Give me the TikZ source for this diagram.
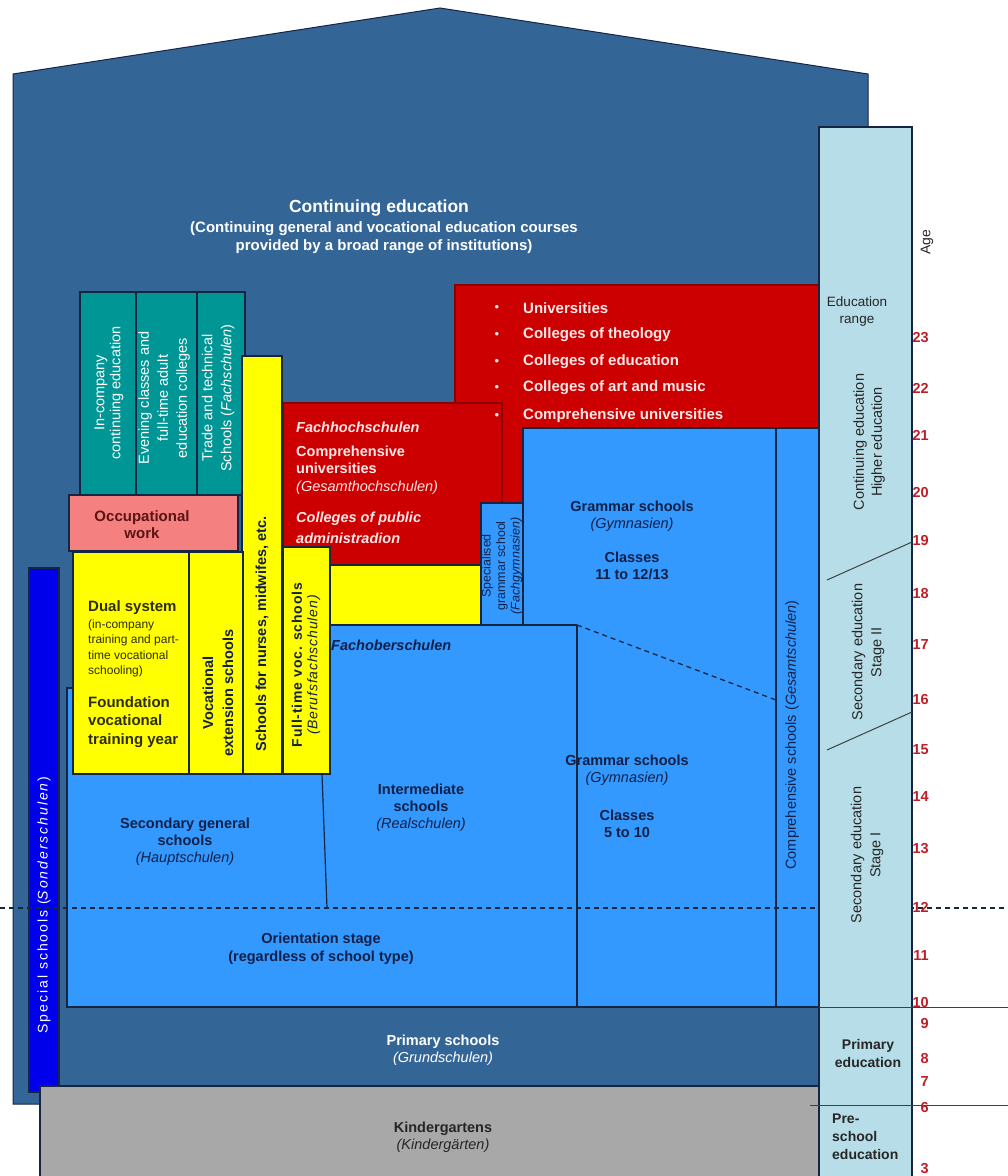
\documentclass[tikz,border=0pt]{standalone}
\usepackage{fontspec}
\setmainfont{Liberation Sans}
\newcommand\fz[2]{\fontsize{#1}{#2}\selectfont}
\newcommand\track[1]{\addfontfeatures{LetterSpace=#1}}
\definecolor{house}{RGB}{52,101,151}
\definecolor{sky}{RGB}{51,153,255}
\definecolor{tealbox}{RGB}{0,150,150}
\definecolor{redbox}{RGB}{204,0,0}
\definecolor{darkred}{RGB}{140,0,0}
\definecolor{yel}{RGB}{255,255,0}
\definecolor{pinkbox}{RGB}{245,128,128}
\definecolor{kgray}{RGB}{168,168,168}
\definecolor{agebar}{RGB}{183,222,232}
\definecolor{special}{RGB}{0,0,235}
\definecolor{agered}{RGB}{190,30,40}
\definecolor{ink}{RGB}{18,32,72}
\definecolor{edge}{RGB}{22,38,66}
\definecolor{paleink}{RGB}{255,232,232}
\definecolor{maroon}{RGB}{90,20,20}
\definecolor{olive}{RGB}{45,45,10}
\begin{document}
\begin{tikzpicture}[x=1pt,y=-1pt,line join=miter,
  outline/.style={draw=edge,line width=1.2pt},
  redline/.style={draw=darkred,line width=1.2pt},
  txt/.style={inner sep=0pt,align=center,text=ink},
  blabel/.style={txt,font=\bfseries\fz{14.5}{17}},
  ylabel/.style={txt,text=olive},
  whitebold/.style={txt,text=white,font=\bfseries\fz{14.5}{17}},
  bulletitem/.style={inner sep=0pt,anchor=west,text=paleink,font=\bfseries\fz{15}{18}},
  agenum/.style={inner sep=0pt,anchor=east,text=agered,font=\bfseries\fz{14.5}{16}},
  barlabel/.style={txt,text=black!85,font=\fz{14.5}{18}},
  agerule/.style={draw=black!75,line width=1pt}]
\useasboundingbox (0,0) rectangle (1008,1176);

% house outline: continuing education
\filldraw[fill=house,draw=edge,line width=1pt] (13,74) -- (440,8) -- (868,74) -- (868,1104) -- (13,1104) -- cycle;

% special schools bar
\filldraw[fill=special,outline] (29,568) rectangle (59,1092);

% continuing education institutions (teal)
\filldraw[fill=tealbox,outline] (80,292) rectangle (136,495);
\filldraw[fill=tealbox,outline] (136,292) rectangle (197,495);
\filldraw[fill=tealbox,outline] (197,292) rectangle (245,495);

% occupational work
\filldraw[fill=pinkbox,outline] (69,495) rectangle (238,551);

% higher education (red)
\filldraw[fill=redbox,redline] (455,285) rectangle (819,503);
\filldraw[fill=redbox,redline] (283,403) rectangle (502,565);
\filldraw[fill=yel,outline] (330,565) rectangle (481,625);

% secondary schools (light blue)
\filldraw[fill=sky,outline] (67,1007) -- (67,688) -- (330,688) -- (330,625) -- (481,625)
  -- (481,503) -- (523,503) -- (523,428) -- (819,428) -- (819,1007) -- cycle;
\draw[outline] (481,625) -- (577,625);
\draw[outline] (523,503) -- (523,625);
\draw[outline] (577,625) -- (577,1007);
\draw[outline] (776,428) -- (776,1007);
\draw[outline] (322,774) -- (327,908);
\draw[edge,line width=1.3pt,dash pattern=on 5pt off 4pt] (577,625) -- (776,700);

% vocational schools (yellow)
\filldraw[fill=yel,outline] (242,356) rectangle (282,774);
\filldraw[fill=yel,outline] (283,547) rectangle (330,774);
\filldraw[fill=yel,outline] (73,552) rectangle (189,774);
\filldraw[fill=yel,outline] (189,552) rectangle (243,774);

% age 12 divide
\draw[edge,line width=1.5pt,dash pattern=on 5pt off 4pt] (0,908) -- (1008,908);

% kindergartens
\filldraw[fill=kgray,outline] (40,1086) rectangle (819,1180);

% education range bar
\filldraw[fill=agebar,outline] (819,127) rectangle (912,1180);
\draw[agerule] (827,580) -- (912,542);
\draw[agerule] (827,750) -- (912,712);
\draw[agerule] (819,1007) -- (1008,1007);
\draw[agerule] (810,1105) -- (1008,1105);

% ---- labels ----
\node[txt,text=white,font=\bfseries\fz{17.5}{20}] (ce-title) at (379,208) {Continuing education};
\node[txt,text=white,font=\bfseries\fz{15}{18}] (ce-sub) at (384,238)
  {(Continuing general and vocational education courses\\provided by a broad range of institutions)};

\node[txt,text=white,rotate=90,font=\fz{14.5}{16}] (inco) at (109,393) {In-company\\continuing education};
\node[txt,text=white,rotate=90,font=\fz{14.5}{19}] (even) at (164,398) {Evening classes and\\full-time adult\\education colleges};
\node[txt,text=white,rotate=90,font=\fz{14.5}{19}] (trade) at (218,398) {Trade and technical\\Schools (\textit{Fachschulen})};

\node[txt,text=maroon,font=\bfseries\fz{15}{17}] (occ) at (142,525) {Occupational\\work};

\node[bulletitem] (u1) at (523,308) {Universities};
\node[bulletitem] (u2) at (523,335) {Colleges of theology};
\node[bulletitem] (u3) at (523,362) {Colleges of education};
\node[bulletitem] (u4) at (523,388) {Colleges of art and music};
\node[bulletitem] (u5) at (523,416) {Comprehensive universities};
\foreach \n/\y in {b1/308,b2/335,b3/362,b4/388,b5/416}
  \node[inner sep=0pt,text=paleink,font=\fz{13}{14}] (\n) at (497,\y) {\textbullet};

\node[txt,anchor=west,text=paleink,font=\bfseries\itshape\fz{14.5}{17}] (fh1) at (296,427) {Fachhochschulen};
\node[txt,anchor=west,align=left,text=paleink,font=\fz{14.5}{17.5}] (fh2) at (296,470)
  {\bfseries Comprehensive\\\bfseries universities\\\itshape (Gesamthochschulen)};
\node[txt,anchor=west,align=left,text=paleink,font=\bfseries\itshape\fz{14.5}{21}] (fh3) at (296,527.5)
  {Colleges of public\\administradion};

\node[txt,rotate=90,font=\bfseries\fz{14.5}{16}] (nurse) at (262,634) {Schools for nurses, midwifes, etc.};
\node[txt,rotate=90,font=\fz{14}{15.5}] (fulltime) at (306,665)
  {\bfseries\track{6}Full-time voc. schools\\\itshape\track{6}(Berufsfachschulen)};
\node[txt,rotate=90,font=\bfseries\fz{14.5}{20}] (vocext) at (218,693) {Vocational\\extension schools};

\node[ylabel,anchor=west,font=\bfseries\fz{15}{17}] (dual) at (88,608) {Dual system};
\node[ylabel,anchor=west,align=left,font=\fz{12}{15.5}] (dualnote) at (88,648.5)
  {(in-company\\training and part-\\time vocational\\schooling)};
\node[ylabel,anchor=west,align=left,font=\bfseries\fz{15}{18.5}] (found) at (88,722)
  {Foundation\\vocational\\training year};

\node[txt,rotate=90,font=\fz{12.5}{14.5}] (spec) at (502,566)
  {Specialised\\grammar school\\\itshape (Fachgymnasien)};

\node[txt,anchor=west,font=\bfseries\itshape\fz{14.5}{17}] (fos) at (331,645) {Fachoberschulen};

\node[blabel] (gym-up) at (632,540)
  {Grammar schools\\{\mdseries\itshape (Gymnasien)}\\[17pt]Classes\\11 to 12/13};
\node[blabel] (gym-low) at (627,796)
  {Grammar schools\\{\mdseries\itshape (Gymnasien)}\\[21pt]Classes\\5 to 10};
\node[blabel] (real) at (421,807.5) {Intermediate\\schools\\{\mdseries\itshape (Realschulen)}};
\node[blabel] (haupt) at (185,841.5) {Secondary general\\schools\\{\mdseries\itshape (Hauptschulen)}};
\node[blabel,font=\bfseries\fz{14.5}{18}] (orient) at (321,949) {Orientation stage\\(regardless of school type)};
\node[txt,rotate=90,font=\fz{14.5}{16}] (gesamt) at (792,735) {Comprehensive schools (\textit{Gesamtschulen})};

\node[txt,rotate=90,text=white,font=\fz{14}{16}\track{14}] (sonder) at (44,905) {Special schools (\textit{Sonderschulen})};

\node[whitebold] (prim) at (443,1050) {Primary schools\\{\mdseries\itshape (Grundschulen)}};
\node[blabel,text=black!85] (kinder) at (443,1137) {Kindergartens\\{\mdseries\itshape (Kindergärten)}};

% labels of the education range bar
\node[txt,rotate=90,text=black!85,font=\fz{14}{16}] (agehead) at (927,242) {Age};
\node[barlabel,font=\fz{13.5}{17}] (range) at (857,312) {Education\\range};
\node[barlabel,rotate=90] (higher) at (869,442) {Continuing education\\Higher education};
\node[barlabel,rotate=90,font=\fz{14.5}{19}] (sec2) at (868,652) {Secondary education\\Stage II};
\node[barlabel,rotate=90,font=\fz{14.5}{19}] (sec1) at (867,855) {Secondary education\\Stage I};
\node[barlabel,font=\bfseries\fz{14}{18}] (primed) at (868,1053) {Primary\\education};
\node[barlabel,anchor=west,align=left,font=\bfseries\fz{14}{18}] (preed) at (832,1137) {Pre-\\school\\education};

\foreach \a/\y in {23/338,22/388,21/435,20/492,19/540,18/593,17/645,16/699,15/750,14/797,
                   13/849,12/907,11/955,10/1002,9/1023,8/1058,7/1081,6/1107,3/1169}
  \node[agenum] (age\a) at (929,\y) {\a};
\end{tikzpicture}
\end{document}
